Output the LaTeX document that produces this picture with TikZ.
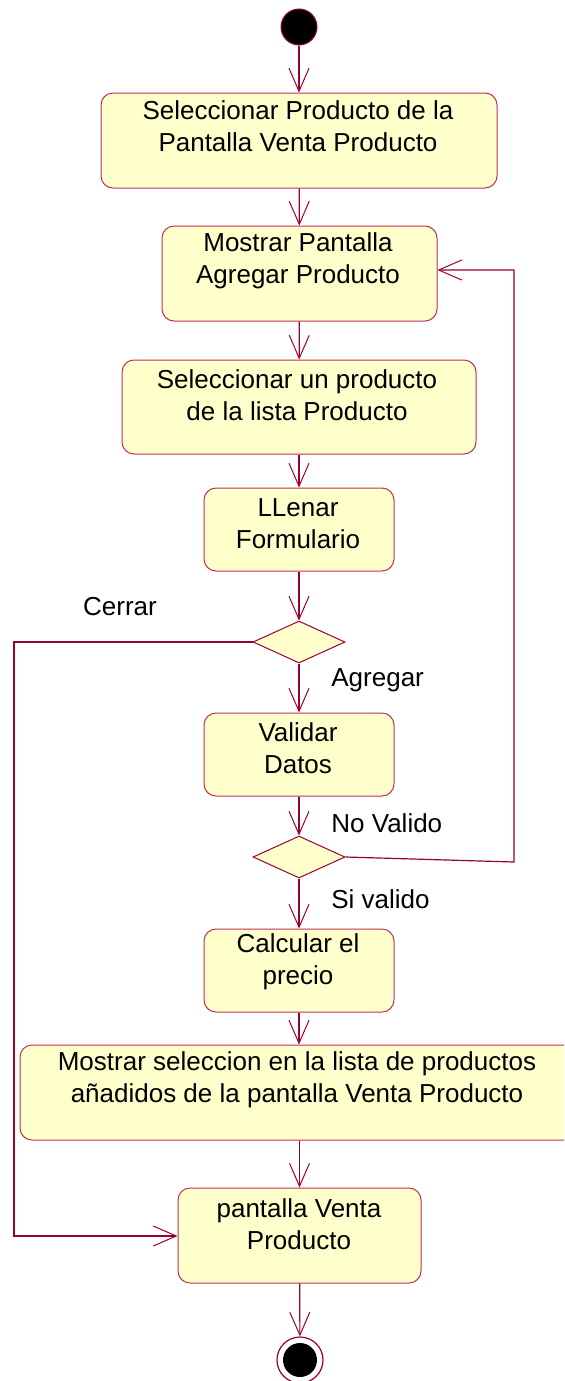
\documentclass[tikz,border=0pt]{standalone}
\usepackage{fontspec}
\setmainfont{Liberation Sans}
\usetikzlibrary{arrows.meta,shapes.geometric}
\definecolor{umlline}{RGB}{153,0,51}
\definecolor{umlborder}{RGB}{190,50,85}
\definecolor{umlfill}{RGB}{255,255,204}
\tikzset{
  flow/.style={draw=umlline,line width=0.6pt,-{Straight Barb[length=11.5pt,width=10pt,line width=0.5pt]}},
  actbox/.style={draw=umlborder,fill=umlfill,line width=0.5pt,rounded corners=6pt,inner sep=0pt},
  acttext/.style={align=center,inner sep=0pt,font=\fontsize{13}{16}\selectfont},
  lbl/.style={inner sep=0pt,font=\fontsize{13}{16}\selectfont},
  decision/.style={diamond,draw=umlline,fill=umlfill,line width=0.5pt,inner sep=0pt,minimum width=46pt,minimum height=21pt},
  startnode/.style={circle,draw=umlline,fill=black,line width=0.5pt,inner sep=0pt,minimum size=18pt},
  endouter/.style={circle,draw=umlline,fill=white,line width=0.6pt,inner sep=0pt,minimum size=23pt},
  endinner/.style={circle,fill=black,inner sep=0pt,minimum size=17pt}
}
\begin{document}
\begin{tikzpicture}[x=0.5pt,y=-0.5pt]
\clip (0,0) rectangle (564,1381);
\fill[white] (0,0) rectangle (564,1381);
% nodes
\node[startnode] (start) at (299,27) {};
\node[actbox,minimum width=198pt,minimum height=47.5pt] (b1) at (299,140.5) {};
\node[acttext] at (298,126) {Seleccionar Producto de la\\Pantalla Venta Producto};
\node[actbox,minimum width=137.5pt,minimum height=47.5pt] (b2) at (299.5,273.5) {};
\node[acttext] at (298,261) {Mostrar Pantalla\\Agregar Producto};
\node[actbox,minimum width=177pt,minimum height=47pt] (b3) at (299,407) {};
\node[acttext] at (297,395) {Seleccionar un producto\\de la lista Producto};
\node[actbox,minimum width=95pt,minimum height=41.5pt] (b4) at (299,529.5) {};
\node[acttext] at (298,524) {LLenar\\Formulario};
\node[decision] (d1) at (299,642) {};
\node[actbox,minimum width=95pt,minimum height=41.5pt] (b5) at (299,754.5) {};
\node[acttext] at (298,748) {Validar\\Datos};
\node[decision] (d2) at (299,857) {};
\node[actbox,minimum width=95pt,minimum height=41.5pt] (b6) at (299,970.5) {};
\node[acttext] at (298,962) {Calcular el\\precio};
\node[actbox,minimum width=300pt,minimum height=47.5pt] (b7) at (320,1092.5) {};
\node[acttext] at (297,1079.5) {Mostrar seleccion en la lista de productos\\añadidos de la pantalla Venta Producto};
\node[actbox,minimum width=121.5pt,minimum height=47.5pt] (b8) at (299.5,1235.5) {};
\node[acttext] at (299,1224) {pantalla Venta\\Producto};
\node[endouter] (endo) at (300,1360) {};
\node[endinner] (endi) at (300,1360) {};
% labels
\node[lbl] (lcerrar) at (120,607) {Cerrar};
\node[lbl,anchor=west] (lagregar) at (331,680) {Agregar};
\node[lbl,anchor=west] (lnovalido) at (331,823) {No Valido};
\node[lbl,anchor=west] (lsivalido) at (331,899) {Si valido};
% loop coordinates
\coordinate (cl1) at (14,642);
\coordinate (cl2) at (14,1236);
\coordinate (cr1) at (514,862);
\coordinate (cr2) at (514,270);
% connectors
\draw[flow] (start) -- (b1);
\draw[flow] (b1) -- (b2);
\draw[flow] (b2) -- (b3);
\draw[flow] (b3) -- (b4);
\draw[flow] (b4) -- (d1);
\draw[flow] (d1) -- (b5);
\draw[flow] (b5) -- (d2);
\draw[flow] (d2) -- (b6);
\draw[flow] (b6.south) -- (b6.south |- b7.north);
\draw[flow] (b7.south -| b8.north) -- (b8.north);
\draw[flow] (b8) -- (endo);
\draw[flow] (d1.west) -- (cl1) -- (cl2) -- (cl2 -| b8.west);
\draw[flow] (d2.east) -- (cr1) -- (cr2) -- (cr2 -| b2.east);
\end{tikzpicture}
\end{document}
